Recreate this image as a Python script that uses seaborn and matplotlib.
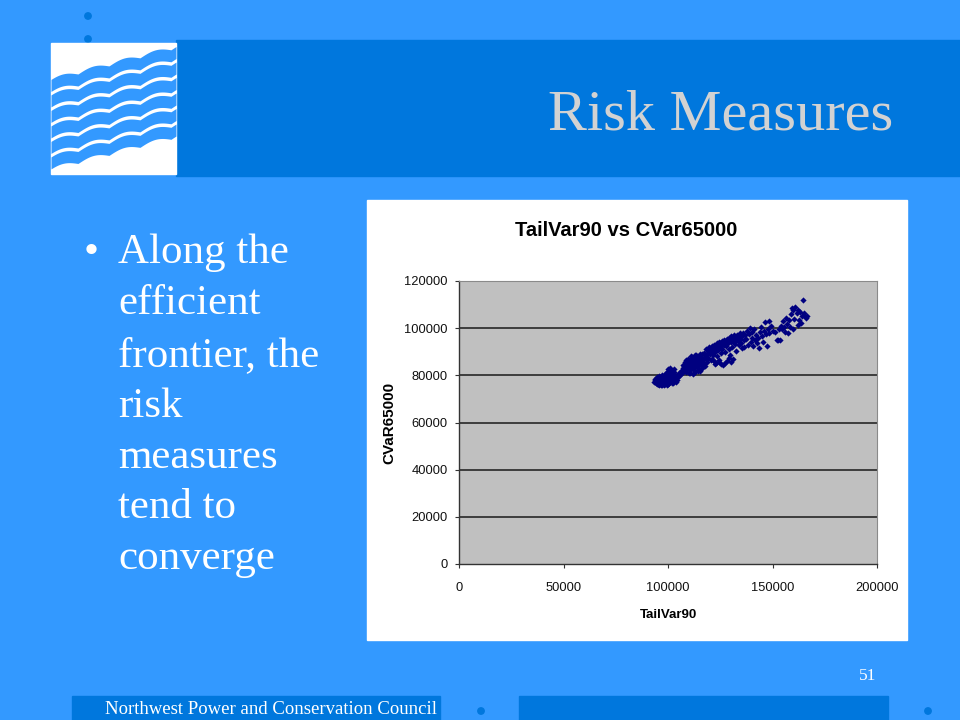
import numpy as np
import pandas as pd
import matplotlib
matplotlib.use("Agg")
import matplotlib.pyplot as plt
from matplotlib.patches import Rectangle, Circle
import seaborn as sns

# punti (valori in migliaia)
tailvar90_k = [
    93.5, 94.0, 94.2, 94.5, 94.8, 95.0, 95.3, 95.6, 95.8, 96.0, 96.2, 96.5, 96.8, 96.9, 97.0,
    97.3, 97.5, 97.8, 97.9, 98.0, 98.2, 98.5, 98.7, 98.9, 99.0, 99.2, 99.4, 99.5, 99.6, 99.8,
    100.0, 100.2, 100.4, 100.6, 100.8, 101.0, 101.2, 101.5, 101.7, 102.0, 102.2, 102.5, 102.8,
    103.0, 103.3, 103.6, 104.0, 104.3, 104.6, 105.0, 105.4, 105.8, 106.2, 106.6,
    94.3, 95.1, 95.5, 96.3, 96.7, 97.2, 97.6, 98.3, 98.8, 99.3, 99.9, 100.3, 100.7, 101.3,
    101.9, 102.4, 103.1, 102.6, 101.1, 100.1, 97.1, 94.6, 93.8,
    107.0, 107.3, 107.6, 108.0, 108.2, 108.5, 108.8, 109.0, 109.2, 109.5, 109.8, 110.0, 110.2,
    110.5, 110.8, 111.0, 111.2, 111.5, 111.8, 112.0, 112.2, 112.5, 112.8, 113.0, 113.2, 113.5,
    113.8, 114.0, 114.3, 114.6, 115.0, 115.3, 115.6, 116.0, 116.3, 116.6, 117.0, 117.3, 117.6,
    118.0, 118.3, 118.6, 119.0, 119.3, 113.0,
    107.8, 108.4, 108.9, 109.4, 109.7, 110.3, 110.6, 111.1, 111.4, 111.7, 112.3, 112.6, 113.1,
    113.4, 113.7, 114.1, 114.4, 114.8, 115.2, 115.8, 116.2, 116.8, 117.2, 117.8, 118.2, 118.8,
    110.4, 112.9, 115.5,
    119.6, 120.0, 120.3, 120.6, 121.0, 121.3, 121.6, 122.0, 122.3, 122.6, 123.0, 123.3, 123.6,
    124.0, 124.3, 124.6, 125.0, 125.3, 125.6, 126.0, 126.3, 126.6, 127.0, 127.3, 127.6, 128.0,
    128.3, 128.6, 129.0, 129.3, 129.6, 130.0, 130.3, 130.6, 131.0, 131.3, 131.6, 132.0, 132.3,
    132.6, 133.0, 133.3, 133.6, 134.0, 134.3, 134.6, 135.0, 135.3, 135.6, 136.0, 136.3, 136.6,
    137.0, 137.5, 138.0, 138.4, 138.8, 139.2, 139.6, 140.0, 140.4, 140.8, 141.2, 141.6,
    120.8, 121.8, 122.8, 123.8, 124.8, 125.8, 126.8, 127.8, 128.8, 129.8, 130.8, 131.8, 132.8,
    133.8, 134.8, 122.2, 123.2, 124.2, 125.2, 127.2, 129.2, 130.2, 121.2,
    142.0, 142.5, 143.0, 143.5, 144.0, 144.5, 145.0, 145.5, 146.0, 146.5, 147.0, 147.5, 148.0,
    148.2, 148.5, 149.5, 150.0, 151.0, 152.0, 152.6, 153.0, 153.5, 154.0, 154.5, 155.0, 155.5,
    156.0, 156.5, 157.0, 157.5, 158.0, 158.5,
    159.0, 159.5, 160.0, 160.5, 161.0, 161.5, 162.0, 162.5, 163.0, 163.5, 164.0, 164.5, 165.0,
    165.5, 166.0, 166.5, 160.0, 162.0,
]
cvar65000_k = [
    77.0, 78.2, 76.8, 79.3, 77.5, 78.8, 76.5, 77.9, 75.9, 79.0, 77.2, 76.0, 78.4, 80.0, 77.6,
    79.5, 76.8, 78.0, 79.8, 75.8, 77.3, 79.0, 76.4, 76.9, 78.5, 80.2, 77.0, 75.9, 81.5, 78.0,
    82.5, 76.5, 79.8, 81.0, 77.5, 83.0, 78.8, 80.5, 76.8, 82.0, 77.8, 79.2, 81.5,
    78.0, 80.0, 77.2, 79.0, 78.2, 80.3, 79.5, 81.2, 80.0, 82.0, 81.0,
    77.8, 76.2, 79.6, 78.6, 76.9, 78.2, 77.1, 78.6, 80.5, 79.1, 80.8, 78.3, 82.0, 81.8,
    79.5, 80.8, 82.5, 76.9, 77.2, 76.2, 76.1, 76.5, 78.5,
    83.0, 84.5, 82.0, 85.5, 83.8, 81.5, 86.5, 84.0, 82.8, 87.0, 85.0, 83.5, 81.0,
    86.0, 84.5, 88.0, 82.5, 85.8, 83.2, 87.0, 80.5, 84.8, 86.8, 82.0, 88.5, 85.2,
    83.8, 87.5, 81.8, 86.2, 84.2, 89.0, 82.8, 87.8, 85.5, 83.5, 89.5, 86.8, 84.0,
    91.0, 88.0, 85.8, 90.2, 87.2, 88.7,
    84.0, 82.8, 85.2, 83.5, 86.0, 84.8, 82.3, 86.8, 84.0, 87.8, 85.8, 83.0, 86.0,
    84.0, 87.0, 85.0, 83.0, 88.0, 86.8, 85.0, 89.0, 87.0, 84.8, 88.8, 86.8, 89.2,
    80.8, 81.5, 81.8,
    92.0, 89.0, 91.0, 86.5, 92.5, 88.5, 90.5, 93.0, 89.8, 85.0, 91.8, 93.8, 88.0,
    90.8, 94.0, 85.8, 92.2, 89.5, 94.5, 91.0, 84.5, 93.0, 95.0, 90.0, 92.5, 86.0,
    95.5, 93.5, 91.2, 96.0, 88.8, 94.0, 96.5, 92.0, 86.8, 95.0, 97.0, 93.2, 95.8,
    90.5, 97.2, 94.5, 96.2, 92.8, 97.8, 95.2, 93.5, 96.8, 91.5, 98.0, 94.8, 92.2,
    97.0, 95.5, 99.0, 93.0, 97.5, 100.0, 94.0, 98.5, 96.0, 92.5, 99.5, 95.0,
    90.0, 91.8, 92.2, 92.8, 93.5, 92.8, 94.2, 93.8, 95.0, 94.8, 95.8, 94.0, 96.8,
    95.5, 96.8, 86.2, 85.3, 86.5, 84.8, 85.2, 87.5, 85.5, 87.0,
    97.0, 93.5, 95.8, 91.8, 98.5, 100.5, 96.5, 94.0, 99.0, 102.5, 97.5, 92.5, 99.8,
    103.0, 98.0, 100.8, 99.0, 98.2, 95.0, 95.0, 99.5, 95.0, 101.0, 99.8, 103.0, 100.5,
    98.5, 104.5, 101.8, 97.8, 103.5, 100.5,
    106.0, 108.5, 107.5, 104.0, 108.8, 106.5, 107.8, 103.5, 106.8, 102.0, 105.0, 112.0, 106.5,
    105.0, 104.5, 105.2, 99.8, 101.5,
]

x_ticks = [0, 50000, 100000, 150000, 200000]
y_ticks = [0, 20000, 40000, 60000, 80000, 100000, 120000]

bullet_lines = ["Along the", "efficient", "frontier, the", "risk",
                "measures", "tend to", "converge"]

df = pd.DataFrame({"TailVar90": np.array(tailvar90_k) * 1000,
                   "CVaR65000": np.array(cvar65000_k) * 1000})

sns.set_style("white")
plt.rcParams["font.family"] = ["Liberation Sans", "DejaVu Sans"]

BLU = "#3399FF"
BLU_SCURO = "#0077DD"
fig = plt.figure(figsize=(9.6, 7.2), dpi=100, facecolor=BLU)

# sfondo della slide in coordinate pixel
bg = fig.add_axes([0, 0, 1, 1], zorder=0)
bg.set_xlim(0, 960)
bg.set_ylim(720, 0)
bg.axis("off")
bg.add_patch(Rectangle((0, 0), 960, 720, color=BLU))
bg.add_patch(Rectangle((176, 40), 784, 136, color=BLU_SCURO))
for cx, cy in [(88, 16), (88, 39), (481, 711), (928, 711)]:
    bg.add_patch(Circle((cx, cy), 3.2, color=BLU_SCURO))
bg.add_patch(Rectangle((51, 43), 125, 131, color="white"))
bg.add_patch(Rectangle((72, 696), 368, 24, color=BLU_SCURO))
bg.add_patch(Rectangle((519, 696), 369, 24, color=BLU_SCURO))
bg.add_patch(Rectangle((367, 200), 540, 440, color="white"))

serif = ["Liberation Serif", "DejaVu Serif"]
bg.text(893, 130, "Risk Measures", family=serif, fontsize=42, color="#D2D2D2",
        ha="right", va="baseline")
baselines = [263, 314, 366, 417, 468, 518, 569]
bg.text(84, 263, "\u2022", family=serif, fontsize=31, color="white", va="baseline")
for riga, yb in zip(bullet_lines, baselines):
    bg.text(118, yb, riga, family=serif, fontsize=31, color="white", va="baseline")
bg.text(868, 680, "51", family=serif, fontsize=12.5, color="white", ha="center",
        va="baseline")
bg.text(105, 714, "Northwest Power and Conservation Council", family=serif,
        fontsize=13.5, color="white", va="baseline")

# logo con le onde
logo = fig.add_axes([51 / 960, 1 - 174 / 720, 125 / 960, 131 / 720], zorder=1)
logo.set_xlim(0, 125)
logo.set_ylim(131, 0)
logo.axis("off")
xx = np.linspace(0, 125, 300)
onda = 4.0 * np.abs(np.sin(np.pi * (xx + 4) / 31))
for k in range(6):
    centro = 44 + 15.5 * k - 0.26 * xx - onda
    logo.fill_between(xx, centro - 6, centro + 6, color=BLU, lw=0)

# grafico a dispersione
ax = fig.add_axes([459 / 960, 1 - 564 / 720, 418 / 960, 283 / 720], zorder=2)
ax.set_facecolor("#C0C0C0")
for yv in y_ticks[1:-1]:
    ax.axhline(yv, color="#1a1a1a", lw=1.1, zorder=1)
sns.scatterplot(data=df, x="TailVar90", y="CVaR65000", ax=ax, marker="D",
                color="#000080", s=10, linewidth=0, zorder=3)
ax.set_xlim(0, 200000)
ax.set_ylim(0, 120000)
ax.set_xticks(x_ticks)
ax.set_yticks(y_ticks)
ax.set_xticklabels([str(v) for v in x_ticks])
ax.set_yticklabels([str(v) for v in y_ticks])
ax.tick_params(axis="both", direction="out", length=3, width=0.8, color="#333333",
               labelsize=9.3, labelcolor="#111111")
ax.tick_params(axis="x", pad=10)
ax.tick_params(axis="y", pad=5)
ax.tick_params(left=True, bottom=True)
for lato in ["left", "bottom"]:
    ax.spines[lato].set_color("#333333")
    ax.spines[lato].set_linewidth(1.0)
for lato in ["top", "right"]:
    ax.spines[lato].set_color("#8a8a8a")
    ax.spines[lato].set_linewidth(0.8)
ax.set_xlabel("")
ax.set_ylabel("")

bg.text(626, 230, "TailVar90 vs CVar65000", fontsize=14.5, fontweight="bold",
        ha="center", va="center", color="black")
bg.text(389, 423, "CVaR65000", fontsize=11, fontweight="bold", rotation=90,
        ha="center", va="center", color="black")
bg.text(668, 615, "TailVar90", fontsize=9.5, fontweight="bold",
        ha="center", va="center", color="black")

fig.savefig("out.png", dpi=100, facecolor=BLU)
